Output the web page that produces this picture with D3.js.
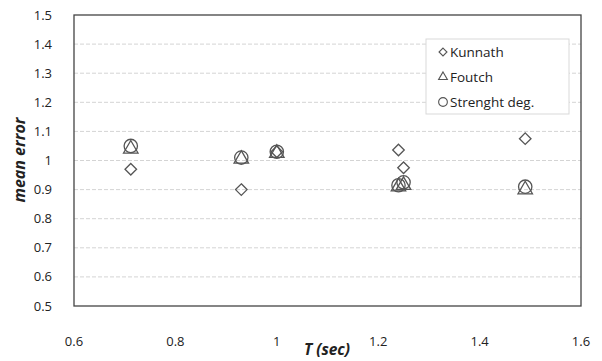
<!DOCTYPE html>
<html>
<head>
<meta charset="utf-8">
<script src="https://cdn.jsdelivr.net/npm/d3@7"></script>
<style>
  body { margin: 0; background: #fff; }
  svg text { font-family: "Open Sans", "DejaVu Sans", sans-serif; fill: #222; }
</style>
</head>
<body>
<svg id="chart" width="602" height="361"></svg>
<script>
// periods T (sec)
const periods = [0.712, 0.93, 1.0, 1.24, 1.25, 1.49];
const kunnath = [0.97, 0.90, 1.03, 1.036, 0.975, 1.075];
const foutch = [1.04, 1.005, 1.025, 0.91, 0.915, 0.90];
const strength = [1.05, 1.01, 1.03, 0.915, 0.925, 0.91];
const xTicks = [0.6, 0.8, 1, 1.2, 1.4, 1.6];
const yTicks = [0.5, 0.6, 0.7, 0.8, 0.9, 1, 1.1, 1.2, 1.3, 1.4, 1.5];
const seriesNames = ['Kunnath', 'Foutch', 'Strenght deg.'];

const svg = d3.select('#chart');
const margin = { top: 15, right: 21, bottom: 55, left: 74 };
const width = +svg.attr('width');
const height = +svg.attr('height');

// scales in page coordinates
const x = d3.scaleLinear().domain([0.6, 1.6]).range([margin.left, width - margin.right]);
const y = d3.scaleLinear().domain([0.5, 1.5]).range([height - margin.bottom, margin.top]);

// dashed gridlines
svg.selectAll('.grid')
  .data(yTicks.slice(1, -1))
  .enter().append('line')
    .attr('x1', x(0.6)).attr('x2', x(1.6))
    .attr('y1', d => y(d)).attr('y2', d => y(d))
    .attr('stroke', '#d4d4d4')
    .attr('stroke-dasharray', '4,2');

// plot border
svg.append('rect')
    .attr('x', x(0.6)).attr('y', y(1.5))
    .attr('width', x(1.6) - x(0.6)).attr('height', y(0.5) - y(1.5))
    .attr('fill', 'none').attr('stroke', '#444').attr('stroke-width', 1.3);

// y tick labels
svg.selectAll('.ytick')
  .data(yTicks)
  .enter().append('text')
    .attr('x', x(0.6) - 22)
    .attr('y', d => y(d) + 4.5)
    .attr('text-anchor', 'end')
    .attr('font-size', 13)
    .text(d => d3.format('~g')(d));

// x tick labels (sit well below the axis)
svg.selectAll('.xtick')
  .data(xTicks)
  .enter().append('text')
    .attr('x', d => x(d))
    .attr('y', y(0.5) + 40)
    .attr('text-anchor', 'middle')
    .attr('font-size', 13)
    .text(d => d3.format('~g')(d));

// axis titles
svg.append('text')
    .attr('x', 327).attr('y', 355)
    .attr('text-anchor', 'middle')
    .attr('font-size', 15.5)
    .attr('font-weight', 'bold')
    .attr('font-style', 'italic')
    .text('T (sec)');

svg.append('text')
    .attr('transform', 'translate(25, 160) rotate(-90)')
    .attr('text-anchor', 'middle')
    .attr('font-size', 16)
    .attr('font-weight', 'bold')
    .attr('font-style', 'italic')
    .text('mean  error');

const stroke = '#555';
const symbols = [
  d3.symbol().type(d3.symbolDiamond2).size(85),
  d3.symbol().type(d3.symbolTriangle2).size(150),
  d3.symbol().type(d3.symbolCircle).size(140)
];
const allSeries = [kunnath, foutch, strength];

allSeries.forEach((vals, i) => {
  svg.selectAll('.s' + i)
    .data(vals)
    .enter().append('path')
      .attr('d', symbols[i])
      .attr('transform', (d, j) => `translate(${x(periods[j])}, ${y(d)})`)
      .attr('fill', 'none')
      .attr('stroke', stroke)
      .attr('stroke-width', 1.3);
});

// legend
const lx = 426, ly = 39;
svg.append('rect')
    .attr('x', lx).attr('y', ly)
    .attr('width', 143).attr('height', 75)
    .attr('fill', '#fff').attr('stroke', '#d9d9d9');

const legendSymbols = [
  d3.symbol().type(d3.symbolDiamond2).size(40),
  d3.symbol().type(d3.symbolTriangle2).size(55),
  d3.symbol().type(d3.symbolCircle).size(60)
];
seriesNames.forEach((name, i) => {
  const cy = ly + 13 + i * 25;
  svg.append('path')
      .attr('d', legendSymbols[i])
      .attr('transform', `translate(${lx + 17}, ${cy})`)
      .attr('fill', 'none').attr('stroke', stroke).attr('stroke-width', 1.1);
  svg.append('text')
      .attr('x', lx + 24).attr('y', cy + 5)
      .attr('font-size', 13.5)
      .text(name);
});
</script>
</body>
</html>
